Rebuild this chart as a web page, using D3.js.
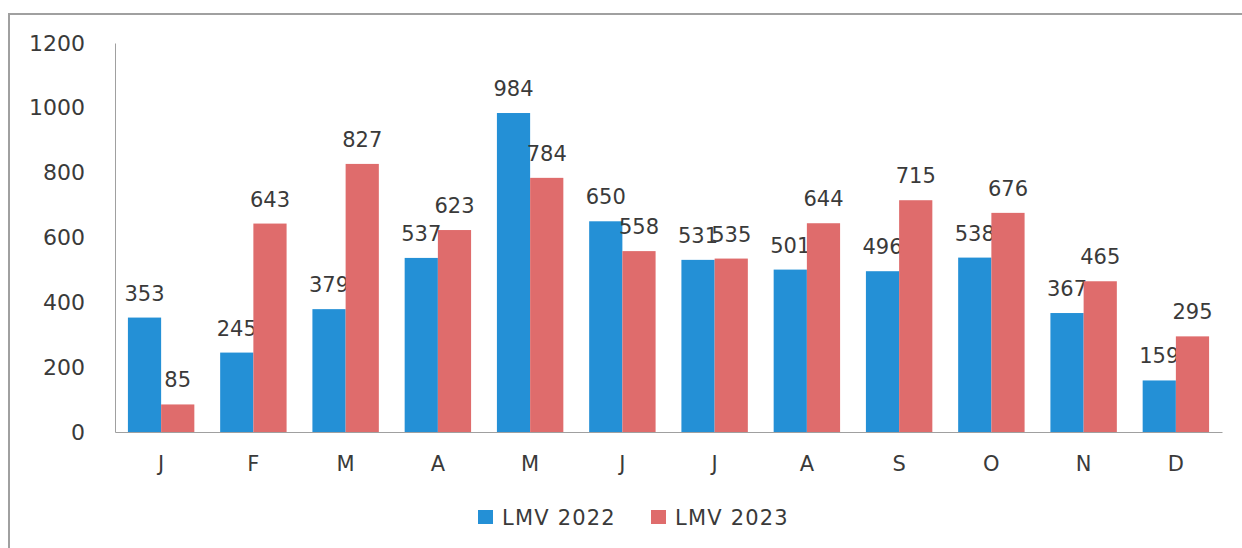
<!DOCTYPE html>
<html><head><meta charset="utf-8">
<script src="https://cdn.jsdelivr.net/npm/d3@7"></script>
<style>html,body{margin:0;padding:0;background:#fff;}svg{display:block;}</style>
</head><body>
<svg id="c" width="1242" height="548"></svg>
<script>
const months = ["J","F","M","A","M","J","J","A","S","O","N","D"];
const series2022 = [353,245,379,537,984,650,531,501,496,538,367,159];
const series2023 = [85,643,827,623,784,558,535,644,715,676,465,295];
const seriesNames = ["LMV 2022","LMV 2023"];
const yTicks = [0,200,400,600,800,1000,1200];
const colors = ["#2490d6","#df6c6c"];

(function(){
const svg = d3.select("#c");
const font = "'DejaVu Sans', sans-serif";
const mL = 115, mR = 1222, mT = 43, mB = 432;

svg.append("path").attr("d","M9,548 V14 H1242").attr("fill","none").attr("stroke","#a0a0a0").attr("stroke-width",2);

const x = d3.scaleBand().domain(d3.range(months.length)).range([mL,mR]).paddingInner(0.28).paddingOuter(0.14);
const xs = d3.scaleBand().domain([0,1]).range([0,x.bandwidth()]);
const y = d3.scaleLinear().domain([0,1200]).range([mB,mT]);

const yAxis = svg.append("g").attr("transform",`translate(${mL},0)`).call(d3.axisLeft(y).tickValues(yTicks).tickFormat(d3.format("d")).tickSize(0).tickPadding(30));
yAxis.select(".domain").attr("stroke","#a0a0a0");
yAxis.selectAll("text").attr("font-family",font).attr("font-size",22).attr("fill","#3a3a3a");

const xAxis = svg.append("g").attr("transform",`translate(0,${mB})`).call(d3.axisBottom(x).tickFormat(i=>months[i]).tickSize(0).tickPadding(24));
xAxis.select(".domain").attr("stroke","#a0a0a0");
xAxis.selectAll("text").attr("font-family",font).attr("font-size",21).attr("fill","#3a3a3a");

const data = [series2022, series2023];
data.forEach((vals,s)=>{
  const g = svg.append("g");
  g.selectAll("rect").data(vals).join("rect")
    .attr("x",(d,i)=>x(i)+xs(s)).attr("width",xs.bandwidth())
    .attr("y",d=>y(d)).attr("height",d=>y(0)-y(d)).attr("fill",colors[s]);
  g.selectAll("text").data(vals).join("text")
    .attr("x",(d,i)=>x(i)+xs(s)+xs.bandwidth()/2).attr("y",d=>y(d)-17)
    .attr("text-anchor","middle").attr("font-family",font).attr("font-size",21).attr("fill","#3a3a3a")
    .text(d=>d);
});

const legX = [478, 651];
seriesNames.forEach((n,i)=>{
  svg.append("rect").attr("x",legX[i]).attr("y",510).attr("width",15).attr("height",14).attr("fill",colors[i]);
  svg.append("text").attr("x",legX[i]+24).attr("y",525).attr("font-family",font).attr("font-size",21).attr("letter-spacing",1.2).attr("fill","#3a3a3a").text(n);
});
})();
</script>
</body></html>
